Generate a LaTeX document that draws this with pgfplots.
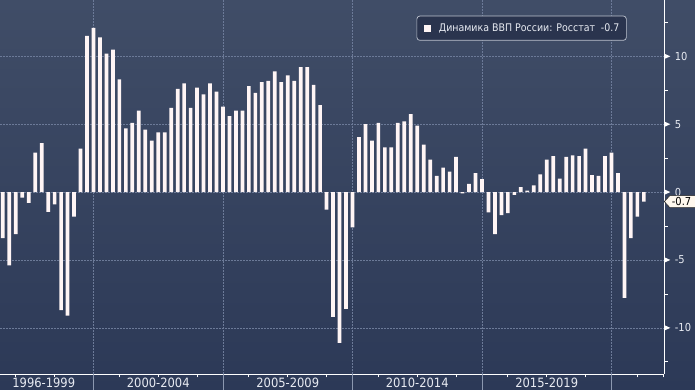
\documentclass[border=0pt]{standalone}
\usepackage{pgfplots}
\pgfplotsset{compat=1.18}
\usepackage{pgfplotstable}
\usepackage{fontspec}
\setmainfont{DejaVu Sans Condensed}
\definecolor{bgtop}{RGB}{64,77,103}
\definecolor{bgbot}{RGB}{44,57,87}
\definecolor{barcol}{RGB}{255,245,245}
\definecolor{gridcol}{RGB}{108,122,152}
\definecolor{sepcol}{RGB}{140,152,176}
\definecolor{legfill}{RGB}{42,52,78}
\definecolor{legdraw}{RGB}{190,196,208}
\definecolor{tagfill}{RGB}{255,248,238}
\definecolor{txt}{RGB}{232,235,242}

% t = year + quarter/4 (bar drawn at the end of its quarter); v = GDP growth, % y/y
\pgfplotstableread{
t v
1996.50 -3.4
1996.75 -5.4
1997.00 -3.1
1997.25 -0.4
1997.50 -0.8
1997.75 2.9
1998.00 3.6
1998.25 -1.45
1998.50 -0.9
1998.75 -8.7
1999.00 -9.1
1999.25 -1.8
1999.50 3.2
1999.75 11.5
2000.00 12.1
2000.25 11.4
2000.50 10.2
2000.75 10.5
2001.00 8.3
2001.25 4.7
2001.50 5.1
2001.75 6.0
2002.00 4.6
2002.25 3.8
2002.50 4.4
2002.75 4.4
2003.00 6.2
2003.25 7.6
2003.50 8.0
2003.75 6.2
2004.00 7.7
2004.25 7.2
2004.50 8.0
2004.75 7.4
2005.00 6.3
2005.25 5.6
2005.50 6.0
2005.75 6.0
2006.00 7.8
2006.25 7.3
2006.50 8.1
2006.75 8.2
2007.00 8.9
2007.25 8.1
2007.50 8.6
2007.75 8.2
2008.00 9.2
2008.25 9.2
2008.50 7.9
2008.75 6.4
2009.00 -1.3
2009.25 -9.2
2009.50 -11.1
2009.75 -8.6
2010.00 -2.6
2010.25 4.05
2010.50 5.0
2010.75 3.8
2011.00 5.1
2011.25 3.3
2011.50 3.3
2011.75 5.1
2012.00 5.2
2012.25 5.75
2012.50 4.9
2012.75 3.5
2013.00 2.4
2013.25 1.2
2013.50 1.8
2013.75 1.5
2014.00 2.6
2014.25 -0.1
2014.50 0.6
2014.75 1.4
2015.00 0.96
2015.25 -1.5
2015.50 -3.1
2015.75 -1.7
2016.00 -1.55
2016.25 -0.2
2016.50 0.37
2016.75 0.1
2017.00 0.5
2017.25 1.3
2017.50 2.4
2017.75 2.65
2018.00 1.0
2018.25 2.6
2018.50 2.7
2018.75 2.65
2019.00 3.2
2019.25 1.25
2019.50 1.2
2019.75 2.65
2020.00 2.9
2020.25 1.4
2020.50 -7.8
2020.75 -3.4
2021.00 -1.8
2021.25 -0.7
}\gdpdata

\begin{document}
\begin{tikzpicture}
\useasboundingbox (0pt,0pt) rectangle (695pt,390pt);
\shade[top color=bgtop, bottom color=bgbot] (0pt,0pt) rectangle (695pt,390pt);
\begin{axis}[
  at={(0pt,16pt)}, anchor=south west,
  width=664.3pt, height=374pt, scale only axis,
  xmin=0.39, xmax=26.04, ymin=-13.4, ymax=14.15,
  clip=false,
  axis x line*=bottom, axis y line*=right,
  axis line style={draw=white, line width=0.9pt, -},
  tick align=outside,
  major tick length=0pt,
  minor tick length=3.5pt,
  every tick/.style={white, line width=0.8pt},
  minor tick style={white, line width=0.8pt},
  xtick={2.08,6.5,11.5,16.5,21.5},
  xticklabels={1996-1999,2000-2004,2005-2009,2010-2014,2015-2019},
  minor xtick={1,2.5,5,6.5,8,10,11.5,13,15,16.5,18,20,21.5,23,25,26},
  xticklabel style={anchor=base, yshift=-13.2pt, inner sep=0pt, text=txt, font=\fontsize{12.8}{13}\selectfont},
  extra x ticks={4,9,14,19,24},
  extra x tick labels={},
  extra x tick style={grid=major, major tick length=0pt},
  ytick={-10,-5,0,5,10},
  yticklabels={-10,-5,0,5,10},
  minor ytick={-12.5,-7.5,-2.5,2.5,7.5,12.5},
  ymajorgrids=true,
  major grid style={gridcol, dash pattern=on 1.5pt off 1.5pt, line width=0.6pt},
  yticklabel style={anchor=west, inner sep=0pt, xshift=10.4pt, text=txt, font=\fontsize{11}{11}\selectfont},
  legend style={at={(0.627,0.958)}, anchor=north west, draw=legdraw, fill=legfill,
    rounded corners=3pt, line width=0.7pt, inner xsep=7pt, inner ysep=7.5pt,
    font=\fontsize{10.5}{12}\selectfont, text=txt, nodes={inner sep=0pt},
    /tikz/every odd column/.append style={column sep=8.3pt}},
  legend image code/.code={\fill[barcol, sharp corners] (0pt,-3.35pt) rectangle (6.7pt,3.35pt);},
]
\addplot[ybar, bar width=3.7pt, fill=barcol, draw=none] table[x expr=\thisrow{t}-1996, y=v]{\gdpdata};
\addlegendentry{Динамика ВВП России: Росстат\hspace{0.55em}-0.7}
\pgfplotsinvokeforeach{-10,-5,0,5,10}{
  \fill[white] (axis cs:26.04,#1) ++(0pt,2.7pt) -- ++(6pt,-2.7pt) -- ++(-6pt,-2.7pt) -- cycle;
}
\pgfplotsinvokeforeach{4,9,14,19,24}{
  \draw[sepcol, line width=0.8pt] (axis cs:#1,-13.4) -- ++(0pt,-16pt);
}
\filldraw[fill=tagfill, draw=black!85, line width=0.6pt] (axis cs:26.04,-0.7) -- ++(5.5pt,6pt) -- ++(40pt,0pt) -- ++(0pt,-12pt) -- ++(-40pt,0pt) -- cycle;
\node[anchor=west, inner sep=0pt, font=\fontsize{11}{11}\selectfont, text=black, xshift=7.4pt] at (axis cs:26.04,-0.7) {-0.7};
\end{axis}
\end{tikzpicture}
\end{document}
